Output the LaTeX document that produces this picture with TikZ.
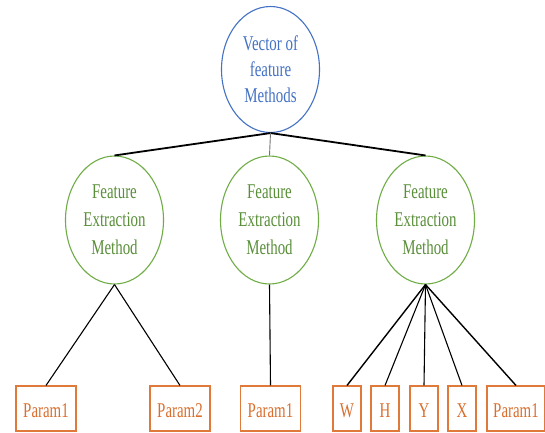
\documentclass[tikz,border=0pt]{standalone}
\usepackage{fontspec}
\setmainfont{Liberation Serif}[FakeStretch=0.71]
\usetikzlibrary{shapes.geometric}
\definecolor{bluedge}{HTML}{4472C4}
\definecolor{greenedge}{HTML}{70AD47}
\definecolor{greentext}{HTML}{5A8F3A}
\definecolor{orangeedge}{HTML}{E07A3A}
\definecolor{orangetext}{HTML}{D96F2E}
\tikzset{
  x=1pt,y=-1pt,
  txt/.style={font=\fontsize{21}{26}\selectfont, align=center},
  topell/.style={ellipse, draw=bluedge, line width=1.1pt, fill=white, text=bluedge,
     minimum width=98pt, minimum height=126pt, inner sep=0pt, txt},
  midell/.style={ellipse, draw=greenedge, line width=1.1pt, fill=white, text=greentext,
     minimum width=98pt, minimum height=128pt, inner sep=0pt, txt,
     font=\fontsize{21}{28}\selectfont},
  pbox/.style={rectangle, draw=orangeedge, line width=1.1pt, fill=white, text=orangetext,
     minimum height=45pt, inner sep=0pt, txt, text height=18pt, text depth=0pt},
  wide/.style={pbox, minimum width=60pt},
  narrow/.style={pbox, minimum width=28pt},
  thick link/.style={draw=black, line width=1.8pt},
  thin link/.style={draw=black!55, line width=0.9pt},
  leaf link/.style={draw=black, line width=1.1pt},
}
\begin{document}
\begin{tikzpicture}
\useasboundingbox (0,0) rectangle (545,432);
\node[topell] (root) at (270.5,69.5) {Vector of\\feature\\Methods};
\node[midell] (m1) at (114.5,220) {Feature\\Extraction\\Method};
\node[midell] (m2) at (269.5,220) {Feature\\Extraction\\Method};
\node[midell] (m3) at (425.5,220) {Feature\\Extraction\\Method};
\node[wide] (p1) at (46,408.5) {Param1};
\node[wide] (p2) at (180,408.5) {Param2};
\node[wide] (p3) at (270.5,408.5) {Param1};
\node[narrow] (w) at (347,408.5) {W};
\node[narrow] (h) at (385,408.5) {H};
\node[narrow] (yy) at (424,408.5) {Y};
\node[narrow] (xx) at (462,408.5) {X};
\node[wide, minimum width=58pt] (p4) at (516,408.5) {Param1};
\draw[thick link] (root.south) -- (m1.north);
\draw[thick link] (root.south) -- (m3.north);
\draw[thin link] (root.south) -- (m2.north);
\draw[leaf link] (m1.south) -- (p1.north);
\draw[leaf link] (m1.south) -- (p2.north);
\draw[leaf link] (m2.south) -- (p3.north);
\draw[leaf link, line width=1.4pt] (m3.south) -- (w.north);
\draw[leaf link] (m3.south) -- (h.north);
\draw[leaf link] (m3.south) -- (yy.north);
\draw[leaf link] (m3.south) -- (xx.north);
\draw[leaf link, line width=1.4pt] (m3.south) -- (p4.north);
\end{tikzpicture}
\end{document}
